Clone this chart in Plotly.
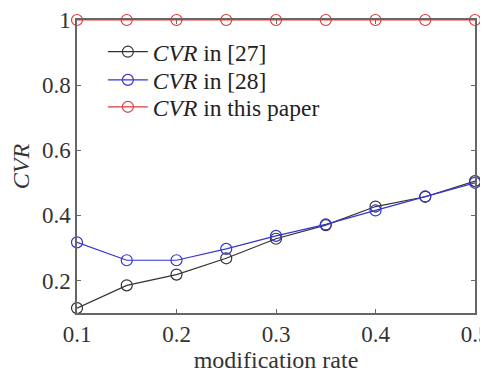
import plotly.graph_objects as go

rates = [0.1, 0.15, 0.2, 0.25, 0.3, 0.35, 0.4, 0.45, 0.5]
cvr_27 = [0.115, 0.185, 0.218, 0.268, 0.328, 0.370, 0.427, 0.457, 0.505]
cvr_28 = [0.317, 0.262, 0.262, 0.297, 0.337, 0.372, 0.415, 0.458, 0.500]
cvr_this = [1, 1, 1, 1, 1, 1, 1, 1, 1]
names = ["<i>CVR</i> in [27]", "<i>CVR</i> in [28]", "<i>CVR</i> in this paper"]
colors = ["#333333", "#3535d0", "#e03a3a"]
legend_ids = ["legend", "legend2", "legend3"]
legend_rows = [0.891, 0.795, 0.703]

font = "Liberation Serif, Times New Roman, serif"

fig = go.Figure()
for ys, nm, c, lid in zip([cvr_27, cvr_28, cvr_this], names, colors, legend_ids):
    fig.add_trace(go.Scatter(
        x=rates, y=ys, name=nm, mode="lines+markers", legend=lid,
        line=dict(color=c, width=1.2),
        marker=dict(symbol="circle-open", size=11, color=c, line=dict(width=1.2)),
        cliponaxis=False,
    ))

axis_common = dict(
    showgrid=False, zeroline=False, showline=True, linecolor="#666666", linewidth=1.5,
    mirror="ticks", ticks="inside", ticklen=4, tickcolor="#666666", automargin=False,
    ticklabeloverflow="allow",
    tickfont=dict(family=font, size=23, color="#333333"),
)
legend_common = dict(
    x=0.065, xanchor="left", yanchor="middle",
    bgcolor="rgba(255,255,255,0)", borderwidth=0,
    font=dict(family=font, size=23.5, color="#222222"),
    itemwidth=40,
)
# page body has an 8px default margin, so the figure is sized 8px smaller
fig.update_layout(
    width=480, height=365,
    margin=dict(l=69, r=13, t=12, b=60, autoexpand=False),
    plot_bgcolor="white", paper_bgcolor="white",
    font=dict(family=font, color="#333333"),
    xaxis=dict(range=[0.1, 0.5], tickvals=[0.1, 0.2, 0.3, 0.4, 0.5],
               ticktext=["0.1", "0.2", "0.3", "0.4", "0.5"],
               title=dict(text="modification rate", font=dict(family=font, size=24), standoff=12),
               **axis_common),
    yaxis=dict(range=[0.1, 1.0], tickvals=[0.2, 0.4, 0.6, 0.8, 1.0],
               ticktext=["0.2", "0.4", "0.6", "0.8", "1"],
               title=dict(text="<i>CVR</i>", font=dict(family=font, size=24), standoff=6),
               **axis_common),
    legend=dict(y=legend_rows[0], **legend_common),
    legend2=dict(y=legend_rows[1], **legend_common),
    legend3=dict(y=legend_rows[2], **legend_common),
    showlegend=True,
)
fig.write_html("out.html")
